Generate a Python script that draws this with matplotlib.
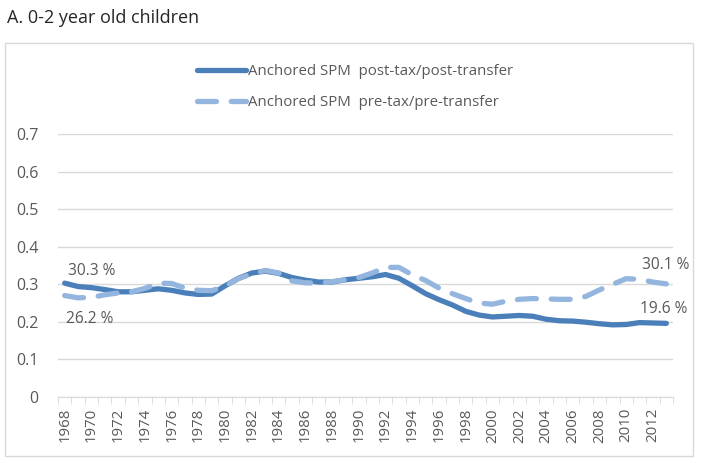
import numpy as np
import matplotlib.pyplot as plt
from matplotlib.patches import Rectangle

years = list(range(1968, 2014))

post_tax = [0.303, 0.294, 0.291, 0.286, 0.280, 0.280, 0.284, 0.288, 0.284, 0.277,
            0.273, 0.274, 0.296, 0.316, 0.330, 0.335, 0.329, 0.318, 0.311, 0.306,
            0.306, 0.312, 0.316, 0.320, 0.326, 0.316, 0.296, 0.275, 0.259, 0.245,
            0.228, 0.218, 0.213, 0.215, 0.217, 0.215, 0.207, 0.203, 0.202, 0.199,
            0.195, 0.192, 0.193, 0.198, 0.197, 0.196]

pre_tax = [0.270, 0.264, 0.265, 0.272, 0.277, 0.280, 0.289, 0.303, 0.302, 0.290,
           0.284, 0.283, 0.295, 0.315, 0.328, 0.337, 0.330, 0.309, 0.304, 0.303,
           0.307, 0.312, 0.318, 0.330, 0.345, 0.345, 0.325, 0.310, 0.290, 0.275,
           0.262, 0.250, 0.247, 0.255, 0.260, 0.262, 0.261, 0.260, 0.260, 0.268,
           0.285, 0.300, 0.315, 0.313, 0.306, 0.301]

y_ticks = [0, 0.1, 0.2, 0.3, 0.4, 0.5, 0.6, 0.7]
y_tick_labels = ['0', '0.1', '0.2', '0.3', '0.4', '0.5', '0.6', '0.7']

title = 'A. 0-2 year old children'
label_post = 'Anchored SPM  post-tax/post-transfer'
label_pre = 'Anchored SPM  pre-tax/pre-transfer'

text_color = '#595959'
grid_color = '#d9d9d9'
dark_blue = '#4a7fb9'
light_blue = '#94b6de'

plt.rcParams['font.family'] = ['Open Sans', 'DejaVu Sans']

W, H = 701, 463
fig = plt.figure(figsize=(W / 100, H / 100), dpi=100)

# chart border
fig.patches.append(Rectangle((5 / W, 1 - 456 / H), 688 / W, 413 / H,
                             transform=fig.transFigure, fill=False,
                             edgecolor=grid_color, linewidth=1))

fig.text(7 / W, 1 - 18 / H, title, fontsize=13, color='#262626',
         ha='left', va='center')

left, right, top, bottom = 58, 673, 134, 397
ax = fig.add_axes([left / W, 1 - bottom / H, (right - left) / W, (bottom - top) / H])

ax.plot(years, post_tax, color=dark_blue, linewidth=3.8,
        solid_capstyle='round', solid_joinstyle='round', label=label_post)
ax.plot(years, pre_tax, color=light_blue, linewidth=3.8,
        linestyle=(0, (3.6, 2.8)), dash_capstyle='round', label=label_pre)

ax.set_xlim(1967.5, 2013.5)
ax.set_ylim(0, 0.7)
ax.set_yticks(y_ticks)
ax.set_yticklabels(y_tick_labels)
ax.set_xticks(years[::2])
ax.set_xticklabels([str(y) for y in years[::2]], rotation=90)
ax.set_xticks(np.arange(1967.5, 2014.5, 1), minor=True)
ax.tick_params(axis='x', which='major', length=0, pad=8, labelsize=10.8, colors=text_color)
ax.tick_params(axis='x', which='minor', length=5, color=grid_color)
ax.tick_params(axis='y', length=0, pad=14, labelsize=11.5, colors=text_color)

ax.grid(axis='y', color=grid_color, linewidth=1)
ax.set_axisbelow(True)
for s in ['top', 'right', 'left']:
    ax.spines[s].set_visible(False)
ax.spines['bottom'].set_color(grid_color)

# data labels
ax.annotate('30.3 %', (years[0], post_tax[0]), xytext=(3, 12), textcoords='offset pixels',
            ha='left', va='center', fontsize=11.2, color=text_color)
ax.annotate('26.2 %', (years[0], pre_tax[0]), xytext=(1, -23), textcoords='offset pixels',
            ha='left', va='center', fontsize=11.2, color=text_color)
ax.annotate('30.1 %', (years[-1], pre_tax[-1]), xytext=(-1, 19), textcoords='offset pixels',
            ha='center', va='center', fontsize=11.2, color=text_color)
ax.annotate('19.6 %', (years[-1], post_tax[-1]), xytext=(-3, 14), textcoords='offset pixels',
            ha='center', va='center', fontsize=11.2, color=text_color)

leg = fig.legend(loc='center', bbox_to_anchor=(355 / W, 1 - 87 / H), frameon=False,
                 fontsize=10.8, labelcolor=text_color, handlelength=3.3,
                 handletextpad=0.1, labelspacing=1.05)

fig.savefig('out.png', dpi=100)
